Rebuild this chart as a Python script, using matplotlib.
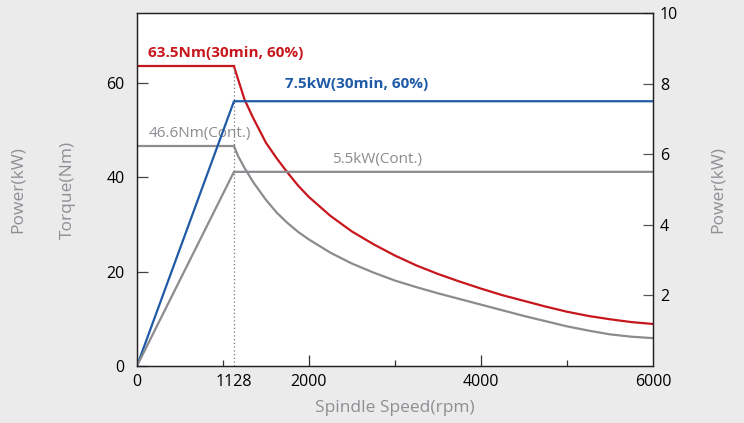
import matplotlib
matplotlib.use("Agg")
import matplotlib.pyplot as plt
from matplotlib.ticker import FixedLocator

# Spindle speed samples (rpm)
speed_ramp = [0, 1128]
speed_curve = [1128, 1175, 1250, 1350, 1500, 1625, 1750, 1875, 2000, 2250, 2500,
               2750, 3000, 3250, 3500, 3750, 4000, 4250, 4500, 4750, 5000, 5250,
               5500, 5750, 6000]

# Torque (Nm)
torque_30min_flat = [63.5, 63.5]
torque_30min_curve = [63.5, 60.8, 56.5, 52.6, 47.3, 44.0, 41.0, 38.2, 35.8, 31.8,
                      28.5, 25.8, 23.4, 21.3, 19.5, 17.9, 16.4, 15.0, 13.8, 12.6,
                      11.5, 10.6, 9.9, 9.3, 8.9]
torque_cont_flat = [46.6, 46.6]
torque_cont_curve = [46.6, 44.5, 42.0, 39.0, 35.2, 32.5, 30.3, 28.4, 26.8, 24.0,
                     21.7, 19.8, 18.1, 16.7, 15.4, 14.2, 13.0, 11.8, 10.6, 9.5,
                     8.4, 7.5, 6.7, 6.2, 5.9]

# Power (kW)
speed_power = [0, 1128, 6000]
power_30min = [0, 7.5, 7.5]
power_cont = [0, 5.5, 5.5]

base_speed = 1128
x_major = [0, 1128, 2000, 4000, 6000]
x_minor = [1000, 3000, 5000]
torque_ticks = [0, 20, 40, 60]
power_ticks = [2, 4, 6, 8, 10]

RED = "#c8161d"
BLUE = "#1f5aa6"
GRAY = "#8b8b90"
LABEL_GRAY = "#8e8f94"
BG = "#eaebea"


def main():
    plt.rcParams["font.family"] = ["Open Sans", "DejaVu Sans"]

    fig = plt.figure(figsize=(7.44, 4.23), dpi=100, facecolor=BG)
    ax = fig.add_axes([0.1841, 0.1348, 0.6935, 0.8345])
    ax.set_facecolor("white")
    ax2 = ax.twinx()

    # torque curves on the left axis
    ax.plot(speed_ramp, torque_30min_flat, color=RED, lw=1.6)
    ax.plot(speed_curve, torque_30min_curve, color=RED, lw=1.6)
    ax.plot(speed_ramp, torque_cont_flat, color=GRAY, lw=1.6)
    ax.plot(speed_curve, torque_cont_curve, color=GRAY, lw=1.6)

    # base speed marker
    ax.plot([base_speed, base_speed], [0, torque_30min_flat[-1]],
            color="#777777", lw=0.9, ls=(0, (1, 2)))

    # power curves on the right axis
    ax2.plot(speed_power, power_30min, color=BLUE, lw=1.6)
    ax2.plot(speed_power, power_cont, color=GRAY, lw=1.6)

    ax.set_xlim(0, 6000)
    ax.set_ylim(0, 74.8)
    ax2.set_ylim(0, 10)

    # annotations
    ax.text(130, 66.3, "63.5Nm(30min, 60%)", color=RED, fontsize=11,
            fontweight="bold", va="center", ha="left")
    ax.text(130, 49.2, "46.6Nm(Cont.)", color=GRAY, fontsize=11,
            va="center", ha="left")
    ax2.text(1721, 7.98, "7.5kW(30min, 60%)", color=BLUE, fontsize=11,
             fontweight="bold", va="center", ha="left")
    ax2.text(2267, 5.85, "5.5kW(Cont.)", color=GRAY, fontsize=11,
             va="center", ha="left")

    # ticks
    ax.xaxis.set_major_locator(FixedLocator(x_major))
    ax.xaxis.set_minor_locator(FixedLocator(x_minor))
    ax.set_xticklabels([str(v) for v in x_major])
    ax.set_yticks(torque_ticks)
    ax2.set_yticks(power_ticks)

    ax.tick_params(axis="x", which="major", direction="in", length=8, width=0.9,
                   color="#333333", labelsize=11.5, pad=6, top=False)
    ax.tick_params(axis="x", which="minor", direction="in", length=4, width=0.9,
                   color="#333333", top=False)
    ax.tick_params(axis="y", direction="in", length=8, width=0.9,
                   color="#444444", labelsize=11.5, pad=9)
    ax2.tick_params(axis="y", direction="in", length=7, width=0.9,
                    color="#555555", labelsize=11.5, pad=5)
    # hide tick marks at 1128 (label only) and at the axis ends
    xt = ax.xaxis.get_major_ticks()
    for i in (0, 1, 4):
        xt[i].tick1line.set_visible(False)

    for a in (ax, ax2):
        for sp in a.spines.values():
            sp.set_color("#222222")
            sp.set_linewidth(0.9)

    # axis titles
    fig.text(395 / 744, 1 - 408 / 423, "Spindle Speed(rpm)", color=LABEL_GRAY,
             fontsize=12.5, ha="center", va="center")
    fig.text(68 / 744, 1 - 190 / 423, "Torque(Nm)", color=LABEL_GRAY,
             fontsize=12.5, ha="center", va="center", rotation=90)
    fig.text(18 / 744, 1 - 190 / 423, "Power(kW)", color=LABEL_GRAY,
             fontsize=12.5, ha="center", va="center", rotation=90)
    fig.text(718 / 744, 1 - 190 / 423, "Power(kW)", color=LABEL_GRAY,
             fontsize=12.5, ha="center", va="center", rotation=90)

    fig.savefig("out.png", dpi=100, facecolor=BG)


if __name__ == "__main__":
    main()
